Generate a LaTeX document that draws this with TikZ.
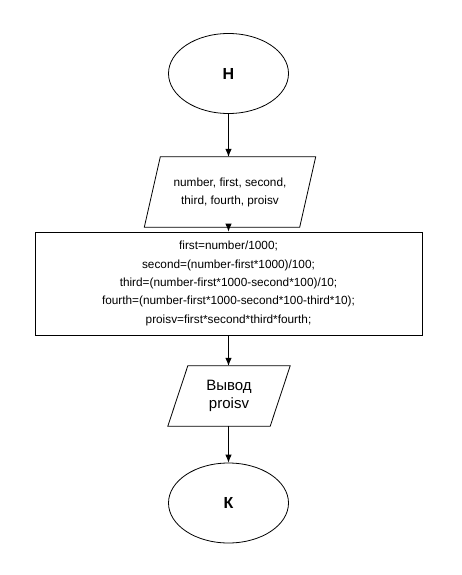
\documentclass[tikz,border=0pt]{standalone}
\usepackage{fontspec}
\setmainfont{Liberation Sans}
\usetikzlibrary{arrows.meta,shapes.geometric}
\begin{document}
\begin{tikzpicture}[x=1pt,y=-1pt,
  term/.style={draw,ellipse,line width=0.8pt,minimum width=120pt,minimum height=80pt,inner sep=0pt,font=\fontsize{16}{18}\selectfont\bfseries},
  procbox/.style={draw,rectangle,line width=0.8pt,minimum width=387pt,minimum height=103pt,inner sep=0pt,align=center,font=\fontsize{11.8}{18.3}\selectfont},
  iobox/.style={rectangle,inner sep=0pt,align=center},
  flow/.style={line width=0.8pt,-{Latex[length=8pt,width=6.5pt]}},
  edge/.style={line width=0.8pt,line join=miter}]
\useasboundingbox (0,0) rectangle (462,575);
\node[term] (H) at (228.5,73.5) {Н};
\node[iobox,minimum width=171pt,minimum height=70pt,font=\fontsize{11.8}{18}\selectfont] (in) at (230,192) {number, first, second,\\third, fourth, proisv};
\draw[edge] ([xshift=16pt]in.north west) -- (in.north east) -- ([xshift=-16pt]in.south east) -- (in.south west) -- cycle;
\node[procbox] (calc) at (228.5,283.5) {first=number/1000;\\second=(number-first*1000)/100;\\third=(number-first*1000-second*100)/10;\\fourth=(number-first*1000-second*100-third*10);\\proisv=first*second*third*fourth;};
\node[iobox,minimum width=122pt,minimum height=60pt,font=\fontsize{15}{18}\selectfont] (out) at (229,396) {Вывод\\proisv};
\draw[edge] ([xshift=20pt]out.north west) -- (out.north east) -- ([xshift=-20pt]out.south east) -- (out.south west) -- cycle;
\node[term] (K) at (228.5,503) {К};
\draw[flow] (H.south) -- (H.south |- in.north);
\draw[flow] (H.south |- in.south) -- (H.south |- calc.north);
\draw[flow] (calc.south) -- (calc.south |- out.north);
\draw[flow] (calc.south |- out.south) -- (K.north);
\end{tikzpicture}
\end{document}
